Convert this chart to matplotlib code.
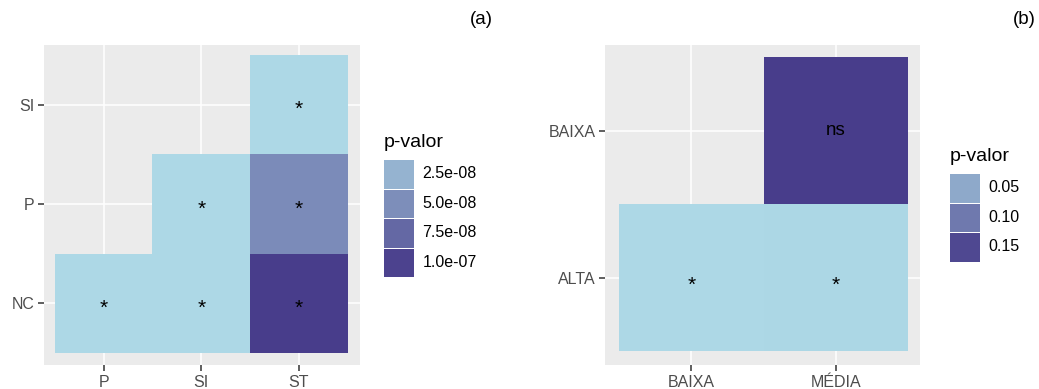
# Heatmaps of pairwise p-values for two comparisons, with ggplot-like styling.
import numpy as np
import matplotlib.pyplot as plt
from matplotlib.colors import LinearSegmentedColormap, Normalize
from matplotlib.patches import Rectangle

plt.rcParams['font.family'] = ['Liberation Sans', 'DejaVu Sans']

# panel (a)
a_xcats = ["P", "SI", "ST"]
a_ycats = ["NC", "P", "SI"]
a_col = ["P", "SI", "ST", "SI", "ST", "ST"]
a_row = ["NC", "NC", "NC", "P", "P", "SI"]
a_p = [3.1e-10, 1.2e-10, 1.04e-07, 8.0e-11, 5.2e-08, 2.0e-10]
a_sig = ["*", "*", "*", "*", "*", "*"]
a_breaks = [2.5e-08, 5.0e-08, 7.5e-08, 1.0e-07]
a_labels = ["2.5e-08", "5.0e-08", "7.5e-08", "1.0e-07"]

# panel (b)
b_xcats = ["BAIXA", "MÉDIA"]
b_ycats = ["ALTA", "BAIXA"]
b_col = ["BAIXA", "MÉDIA", "MÉDIA"]
b_row = ["ALTA", "ALTA", "BAIXA"]
b_p = [1.5e-04, 2.0e-03, 0.162]
b_sig = ["*", "*", "ns"]
b_breaks = [0.05, 0.10, 0.15]
b_labels = ["0.05", "0.10", "0.15"]

cmap = LinearSegmentedColormap.from_list("pval", ["#ADD8E6", "#483D8B"])
BG = "#EBEBEB"
TXT = "#4D4D4D"

fig = plt.figure(figsize=(10.39, 3.89), dpi=100)


def heat(ax, xcats, ycats, cols, rows, pvals, sigs, xpad, ypad):
    grid = np.full((len(ycats), len(xcats)), np.nan)
    for c, r, p in zip(cols, rows, pvals):
        grid[ycats.index(r), xcats.index(c)] = p
    norm = Normalize(vmin=min(pvals), vmax=max(pvals))
    xe = np.arange(len(xcats) + 1) + 0.5
    ye = np.arange(len(ycats) + 1) + 0.5
    ax.set_facecolor(BG)
    ax.pcolormesh(xe, ye, np.ma.masked_invalid(grid), cmap=cmap, norm=norm,
                  linewidth=0, antialiased=False, zorder=2)
    for c, r, s in zip(cols, rows, sigs):
        if s == "*":
            ax.text(xcats.index(c) + 1, ycats.index(r) + 1 - 0.05, s,
                    ha="center", va="center", fontsize=15, color="black",
                    zorder=3)
        else:
            ax.text(xcats.index(c) + 1, ycats.index(r) + 1, s,
                    ha="center", va="center", fontsize=13.5, color="black",
                    zorder=3)
    ax.set_xticks(range(1, len(xcats) + 1), xcats)
    ax.set_yticks(range(1, len(ycats) + 1), ycats)
    ax.set_xlim(0.5 - xpad[0], len(xcats) + 0.5 + xpad[1])
    ax.set_ylim(0.5 - ypad[0], len(ycats) + 0.5 + ypad[1])
    ax.grid(True, color="white", linewidth=1.1, zorder=1)
    ax.set_axisbelow(True)
    for sp in ax.spines.values():
        sp.set_visible(False)
    ax.tick_params(colors="#333333", labelcolor=TXT, labelsize=11.5,
                   length=4, width=1.1, pad=3)
    return norm


def legend(x0, y0, breaks, labels, norm):
    # keys drawn in figure pixel coordinates, y0 is the top of the first key
    W, H = 1039.0, 389.0
    fig.text(x0 / W, 1 - (y0 - 12) / H, "p-valor", fontsize=14,
             ha="left", va="baseline", color="black")
    kh, kw = 29.5, 29.5
    for i, (b, lab) in enumerate(zip(breaks, labels)):
        top = y0 + i * kh
        fig.patches.append(Rectangle((x0 / W, 1 - (top + kh) / H), kw / W,
                                     (kh - 1) / H, transform=fig.transFigure,
                                     facecolor=cmap(norm(b)), edgecolor="none"))
        fig.text((x0 + kw + 9) / W, 1 - (top + kh / 2) / H, lab,
                 fontsize=11.5, ha="left", va="center", color="black")


ax_a = fig.add_axes([44 / 1039, 24 / 389, 316 / 1039, 320 / 389])
norm_a = heat(ax_a, a_xcats, a_ycats, a_col, a_row, a_p, a_sig,
              (0.11, 0.125), (0.12, 0.10))
legend(384, 159, a_breaks, a_labels, norm_a)

ax_b = fig.add_axes([605 / 1039, 24 / 389, 315 / 1039, 320 / 389])
norm_b = heat(ax_b, b_xcats, b_ycats, b_col, b_row, b_p, b_sig,
              (0.097, 0.083), (0.095, 0.082))
legend(950, 173, b_breaks, b_labels, norm_b)

fig.text(493 / 1039, 1 - 20 / 389, "(a)", fontsize=13.5, ha="right", va="center")
fig.text(1036 / 1039, 1 - 20 / 389, "(b)", fontsize=13.5, ha="right", va="center")

fig.savefig("out.png", dpi=100, facecolor="white")
